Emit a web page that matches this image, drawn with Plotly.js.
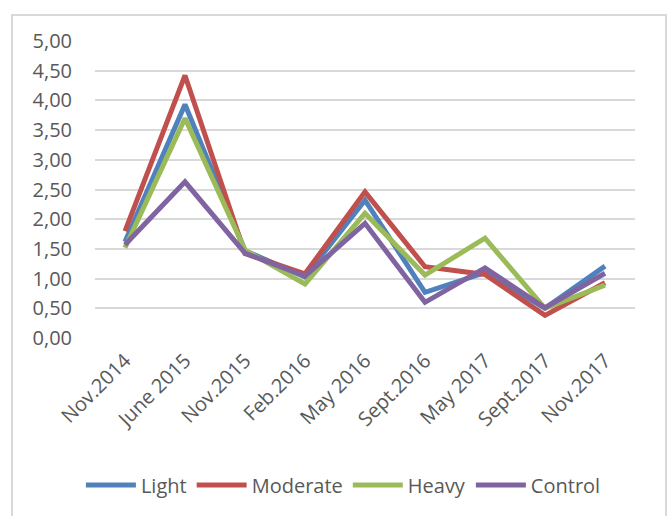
<!DOCTYPE html>
<html>
<head>
<meta charset="utf-8">
<script src="https://cdn.plot.ly/plotly-3.0.1.min.js"></script>
<style>
  html, body { margin: 0; padding: 0; background: #ffffff; }
  #frame { position: absolute; left: 11px; top: 14px; width: 656px; height: 520px; border: 2px solid #d9d9d9; box-sizing: border-box; pointer-events: none; z-index: 5; }
  #chart { position: absolute; left: 0; top: 0; width: 670px; height: 516px; }
</style>
</head>
<body>
<div id="chart"></div>
<div id="frame"></div>
<script>
const categories = ["Nov.2014", "June 2015", "Nov.2015", "Feb.2016", "May 2016", "Sept.2016", "May 2017", "Sept.2017", "Nov.2017"];
const light    = [1.62, 3.93, 1.47, 1.03, 2.32, 0.77, 1.10, 0.50, 1.21];
const moderate = [1.80, 4.42, 1.42, 1.08, 2.46, 1.20, 1.07, 0.38, 0.93];
const heavy    = [1.52, 3.70, 1.48, 0.91, 2.10, 1.06, 1.68, 0.50, 0.89];
const control  = [1.57, 2.63, 1.43, 1.04, 1.93, 0.60, 1.18, 0.51, 1.09];

const seriesNames = ["Light", "Moderate", "Heavy", "Control"];
const seriesData = [light, moderate, heavy, control];
const seriesColors = ["#4F81BD", "#C0504D", "#9BBB59", "#8064A2"];

const FONT = "Open Sans, Liberation Sans, sans-serif";

const traces = seriesNames.map((n, i) => ({
  type: "scatter",
  mode: "lines",
  name: n,
  x: categories,
  y: seriesData[i],
  line: { color: seriesColors[i], width: 5 }
}));

const layout = {
  width: 670,
  height: 516,
  margin: { l: 95, r: 35, t: 41, b: 178 },
  paper_bgcolor: "#ffffff",
  plot_bgcolor: "#ffffff",
  separators: ",.",
  font: { family: FONT, size: 20, color: "#595959" },
  showlegend: true,
  legend: {
    orientation: "h",
    x: 0.46, xanchor: "center",
    y: -0.495, yanchor: "middle",
    itemwidth: 50,
    font: { family: FONT, size: 20, color: "#595959" },
    traceorder: "normal"
  },
  xaxis: {
    type: "category",
    range: [-0.5, 8.5],
    tickangle: -45,
    showgrid: false,
    zeroline: false,
    showline: false,
    ticks: "",
    ticklabelstandoff: 6,
    tickfont: { family: FONT, size: 20, color: "#595959" }
  },
  yaxis: {
    range: [0, 5],
    dtick: 0.5,
    tick0: 0,
    tickformat: ".2f",
    showgrid: true,
    gridcolor: "#d9d9d9",
    gridwidth: 2,
    zeroline: false,
    showline: false,
    ticks: "",
    ticklabelstandoff: 22,
    tickfont: { family: FONT, size: 20, color: "#595959" }
  }
};

Plotly.newPlot("chart", traces, layout, { displayModeBar: false, staticPlot: true });
</script>
</body>
</html>
